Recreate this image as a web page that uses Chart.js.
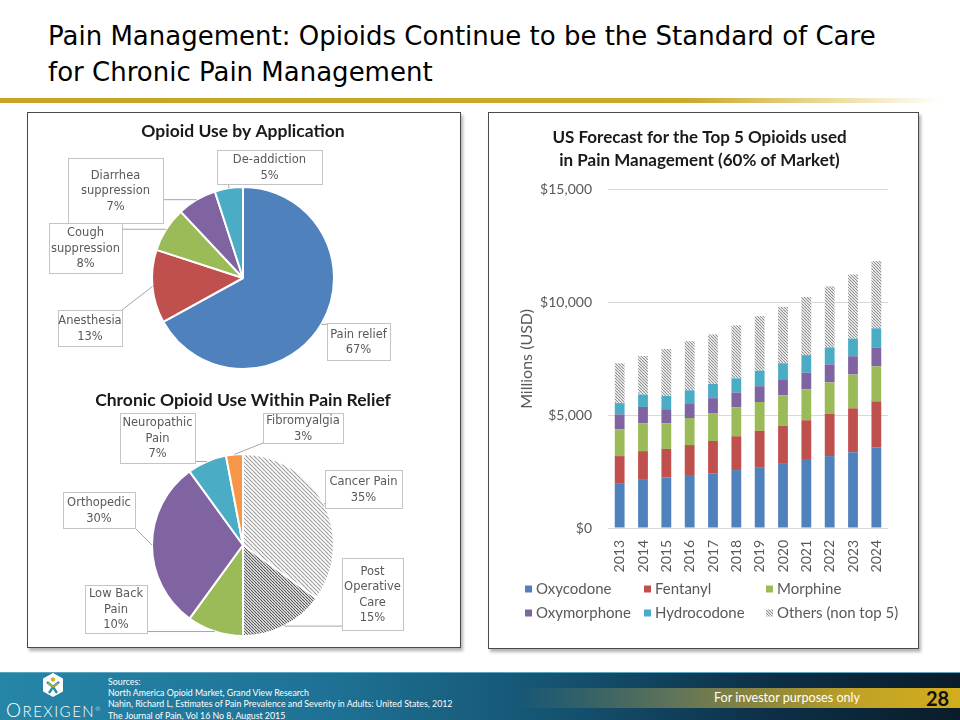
<!DOCTYPE html>
<html>
<head>
<meta charset="utf-8">
<script src="https://cdn.jsdelivr.net/npm/chart.js@4.4.0/dist/chart.umd.min.js"></script>
<style>
  body { margin: 0; width: 960px; height: 720px; position: relative; overflow: hidden; background: #fff; font-family: Lato, sans-serif; }
  .abs { position: absolute; }
  h1 { position: absolute; left: 48px; top: 19px; margin: 0; font-weight: normal; font-size: 26px; line-height: 35.5px;
       font-family: 'DejaVu Sans', sans-serif; color: #000; white-space: nowrap; }
  .rule { left: 0; top: 98px; width: 960px; height: 5px;
          background: linear-gradient(to right, #c9a227 0%, #cca82c 72%, #efe0a8 88%, #fff 98%); }
  .panel { box-sizing: border-box; border: 1.5px solid #4a4a4a; background: #fff; box-shadow: 2px 3px 3px rgba(0,0,0,.3); }
  .footer { left: 0; top: 672px; width: 960px; height: 48px; border-top: 1px solid #5aa6c2; box-sizing: border-box;
            background: linear-gradient(to right, #2686a8 0%, #1e7194 35%, #14506e 60%, #0d3047 80%, #0a1c2a 100%); }
  .gold { left: 520px; top: 688px; width: 440px; height: 20px;
          background: linear-gradient(to right, rgba(200,168,40,0) 0%, rgba(160,160,90,.55) 35%, #c2a326 78%, #d2ad1c 100%); }
  .src { left: 108px; top: 676px; color: #fff; font-size: 8.8px; line-height: 11.2px; }
  .inv { left: 714px; top: 690px; color: #fff; font-size: 12.6px; }
  .pg { left: 926px; top: 686px; color: #111; font-size: 20px; font-weight: bold; }
  .logo { left: 6px; top: 698px; color: #fff; font-size: 15px; letter-spacing: 1.5px; font-weight: 300; }
</style>
</head>
<body>
<h1>Pain Management: Opioids Continue to be the Standard of Care<br>for Chronic Pain Management</h1>
<div class="abs rule"></div>

<div class="abs panel" style="left:27px;top:112px;width:434px;height:536px"></div>
<div class="abs panel" style="left:488px;top:112px;width:431px;height:537px"></div>
<canvas id="chart-aplicacao" class="abs" style="left:29px;top:113px" width="430" height="267"></canvas>
<canvas id="chart-cronico" class="abs" style="left:29px;top:383px" width="430" height="264"></canvas>
<canvas id="chart-previsao" class="abs" style="left:489px;top:114px" width="428" height="533"></canvas>

<div class="abs footer"></div>
<div class="abs gold"></div>
<svg class="abs" style="left:42px;top:673px" width="22" height="24" viewBox="0 0 22 24">
  <path d="M11 1 L20 6 L20 18 L11 23 L2 18 L2 6 Z" fill="#fff" stroke="#fff" stroke-linejoin="round" stroke-width="2"/>
  <circle cx="11" cy="6.5" r="2.2" fill="#d8b21e"/>
  <path d="M5 9 L11 14 L17 9 M7 20 L11 14 L15 20" stroke="#2a8fa6" stroke-width="2.4" fill="none"/>
  <path d="M6 10 L11 14 L16 10" stroke="#d8b21e" stroke-width="1.2" fill="none"/>
</svg>
<div class="abs logo"><span style="font-size:19px">O</span>REXIGEN<sup style="font-size:6px">®</sup></div>
<div class="abs src">Sources:<br>North America Opioid Market, Grand View Research<br>Nahin, Richard L, Estimates of Pain Prevalence and Severity in Adults: United States, 2012<br>The Journal of Pain, Vol 16 No 8, August 2015</div>
<div class="abs inv">For investor purposes only</div>
<div class="abs pg">28</div>

<script>
// pizza 1
const appLabels = ['Pain relief', 'Anesthesia', 'Cough\nsuppression', 'Diarrhea\nsuppression', 'De-addiction'];
const appValues = [67, 13, 8, 7, 5];
// pizza 2
const chronicLabels = ['Cancer Pain', 'Post\nOperative\nCare', 'Low Back\nPain', 'Orthopedic', 'Neuropathic\nPain', 'Fibromyalgia'];
const chronicValues = [35, 15, 10, 30, 7, 3];
// barras
const years = ['2013', '2014', '2015', '2016', '2017', '2018', '2019', '2020', '2021', '2022', '2023', '2024'];
const oxycodone = [1960, 2170, 2240, 2310, 2430, 2570, 2700, 2880, 3020, 3190, 3360, 3580];
const fentanyl = [1230, 1240, 1270, 1370, 1430, 1500, 1610, 1650, 1760, 1870, 1950, 2040];
const morphine = [1190, 1240, 1140, 1200, 1240, 1280, 1280, 1360, 1370, 1400, 1500, 1550];
const oxymorphone = [660, 720, 620, 620, 660, 660, 700, 710, 740, 800, 810, 840];
const hydrocodone = [500, 550, 590, 610, 630, 630, 690, 710, 780, 750, 780, 850];
const others = [1770, 1710, 2080, 2180, 2200, 2350, 2420, 2500, 2580, 2710, 2850, 2980];
const yTicks = [0, 5000, 10000, 15000];

const blue = '#4F81BD', red = '#C0504D', green = '#9BBB59', purple = '#8064A2', teal = '#4BACC6', orange = '#F79646';
const grey = '#595959';

function hatch(bg, line, gap, width) {
    const c = document.createElement('canvas');
    c.width = gap; c.height = gap;
    const x = c.getContext('2d');
    x.fillStyle = bg;
    x.fillRect(0, 0, gap, gap);
    x.strokeStyle = line;
    x.lineWidth = width;
    x.beginPath();
    for (let k = -1; k <= 1; k++) {
        x.moveTo(k * gap, 0);
        x.lineTo(k * gap + gap, gap);
    }
    x.stroke();
    return x.createPattern(c, 'repeat');
}

// caixas de rotulo: [dx, dy, w, h] a partir do centro da pizza
const appBoxes = [[84, 45, 63, 37], [-185, 32, 64, 36], [-194, -55, 73, 50], [-175, -120, 95, 65], [-26, -128, 105, 34]];
const chronicBoxes = [[82, -75, 77, 38], [99, 13, 61, 72], [-158, 40, 62, 48], [-180, -53, 72, 36], [-123, -132, 75, 50], [20, -132, 80, 30]];

const callouts = {
    id: 'callouts',
    afterDatasetsDraw(chart, args, opts) {
        const ctx = chart.ctx;
        const ds = chart.data.datasets[0];
        chart.getDatasetMeta(0).data.forEach((arc, i) => {
            const p = arc.getProps(['x', 'y', 'startAngle', 'endAngle', 'outerRadius'], true);
            const mid = (p.startAngle + p.endAngle) / 2;
            const ax = p.x + Math.cos(mid) * p.outerRadius;
            const ay = p.y + Math.sin(mid) * p.outerRadius;
            const [dx, dy, w, h] = opts.boxes[i];
            const bx = Math.round(p.x + dx), by = Math.round(p.y + dy);
            const nx = Math.min(Math.max(ax, bx), bx + w);
            const ny = Math.min(Math.max(ay, by), by + h);
            ctx.save();
            ctx.strokeStyle = '#a6a6a6';
            ctx.lineWidth = 1;
            ctx.beginPath();
            ctx.moveTo(ax, ay);
            ctx.lineTo(nx, ny);
            ctx.stroke();
            ctx.fillStyle = '#fff';
            ctx.fillRect(bx, by, w, h);
            ctx.strokeStyle = '#c4c4c4';
            ctx.strokeRect(bx + 0.5, by + 0.5, w, h);
            const lines = chart.data.labels[i].split('\n').concat(ds.data[i] + '%');
            ctx.fillStyle = grey;
            ctx.font = '11.5px "DejaVu Sans"';
            ctx.textAlign = 'center';
            ctx.textBaseline = 'middle';
            const lh = 15.5;
            const y0 = by + h / 2 - (lines.length - 1) * lh / 2 + 1;
            lines.forEach((t, k) => ctx.fillText(t, bx + w / 2, y0 + k * lh));
            ctx.restore();
        });
    }
};

const gridLegend = {
    id: 'gridLegend',
    afterDraw(chart, args, opts) {
        const ctx = chart.ctx;
        ctx.save();
        chart.data.datasets.forEach((d, i) => {
            const x = opts.cols[i % 3], y = opts.rows[Math.floor(i / 3)];
            ctx.fillStyle = d.backgroundColor;
            ctx.fillRect(x, y - 3.5, 7, 7);
            ctx.fillStyle = grey;
            ctx.font = '15px Lato';
            ctx.textAlign = 'left';
            ctx.textBaseline = 'middle';
            ctx.fillText(d.label, x + 11, y);
        });
        ctx.restore();
    }
};

function pieOptions(title, pad, titlePad, boxes) {
    return {
        responsive: false,
        animation: false,
        layout: { padding: pad },
        plugins: {
            legend: { display: false },
            tooltip: { enabled: false },
            title: {
                display: true,
                text: title,
                color: '#1a1a1a',
                font: { family: 'Lato', size: 17.5, weight: 'bold', lineHeight: 1.2 },
                padding: titlePad
            },
            callouts: { boxes }
        }
    };
}

const ctxApp = document.getElementById('chart-aplicacao').getContext('2d');
new Chart(ctxApp, {
    type: 'pie',
    data: {
        labels: appLabels,
        datasets: [{ data: appValues, backgroundColor: [blue, red, green, purple, teal], borderColor: '#fff', borderWidth: 2 }]
    },
    options: pieOptions('Opioid Use by Application', { left: 0, right: 2, top: 0, bottom: 10 }, { top: 7.5, bottom: 44.5 }, appBoxes),
    plugins: [callouts]
});

const ctxChronic = document.getElementById('chart-cronico').getContext('2d');
new Chart(ctxChronic, {
    type: 'pie',
    data: {
        labels: chronicLabels,
        datasets: [{
            data: chronicValues,
            backgroundColor: [hatch('#fff', '#9a9a9a', 4, 1.1), hatch('#fff', '#555', 3, 1.2), green, purple, teal, orange],
            borderColor: '#fff',
            borderWidth: 2
        }]
    },
    options: pieOptions('Chronic Opioid Use Within Pain Relief', { left: 0, right: 2, top: 0, bottom: 10 }, { top: 6.5, bottom: 42.5 }, chronicBoxes),
    plugins: [callouts]
});

const ctxBar = document.getElementById('chart-previsao').getContext('2d');
const series = [
    ['Oxycodone', oxycodone, blue],
    ['Fentanyl', fentanyl, red],
    ['Morphine', morphine, green],
    ['Oxymorphone', oxymorphone, purple],
    ['Hydrocodone', hydrocodone, teal],
    ['Others (non top 5)', others, hatch('#fff', '#8c8c8c', 3, 1.1)]
];
new Chart(ctxBar, {
    type: 'bar',
    data: {
        labels: years,
        datasets: series.map(([label, data, color]) => ({
            label, data, backgroundColor: color, barPercentage: 0.42, categoryPercentage: 1
        }))
    },
    options: {
        responsive: false,
        animation: false,
        layout: { padding: { left: 22, right: 29, top: 0, bottom: 0 } },
        plugins: {
            legend: { display: false },
            tooltip: { enabled: false },
            title: {
                display: true,
                text: ['US Forecast for the Top 5 Opioids used', 'in Pain Management (60% of Market)'],
                color: '#1a1a1a',
                font: { family: 'Lato', size: 17, weight: 'bold', lineHeight: 1.35 },
                padding: { top: 12, bottom: 18 }
            },
            gridLegend: { cols: [36, 155, 277], rows: [475, 499] }
        },
        scales: {
            x: {
                stacked: true,
                grid: { display: false },
                border: { display: false },
                ticks: { minRotation: 90, maxRotation: 90, padding: 4, color: grey, font: { family: 'Lato', size: 14 } },
                afterFit(scale) { scale.height = 119; }
            },
            y: {
                stacked: true,
                min: 0,
                max: 15000,
                afterBuildTicks(scale) { scale.ticks = yTicks.map(v => ({ value: v })); },
                ticks: {
                    padding: 16,
                    color: grey,
                    font: { family: 'Lato', size: 14 },
                    callback: v => '$' + v.toLocaleString('en-US')
                },
                grid: { color: '#d9d9d9', drawTicks: false },
                border: { display: false },
                title: { display: true, text: 'Millions (USD)', color: grey, font: { family: 'Lato', size: 16 }, padding: { top: 6, bottom: 0 } },
                afterFit(scale) { scale.width = 97; }
            }
        }
    },
    plugins: [gridLegend]
});
</script>
</body>
</html>
